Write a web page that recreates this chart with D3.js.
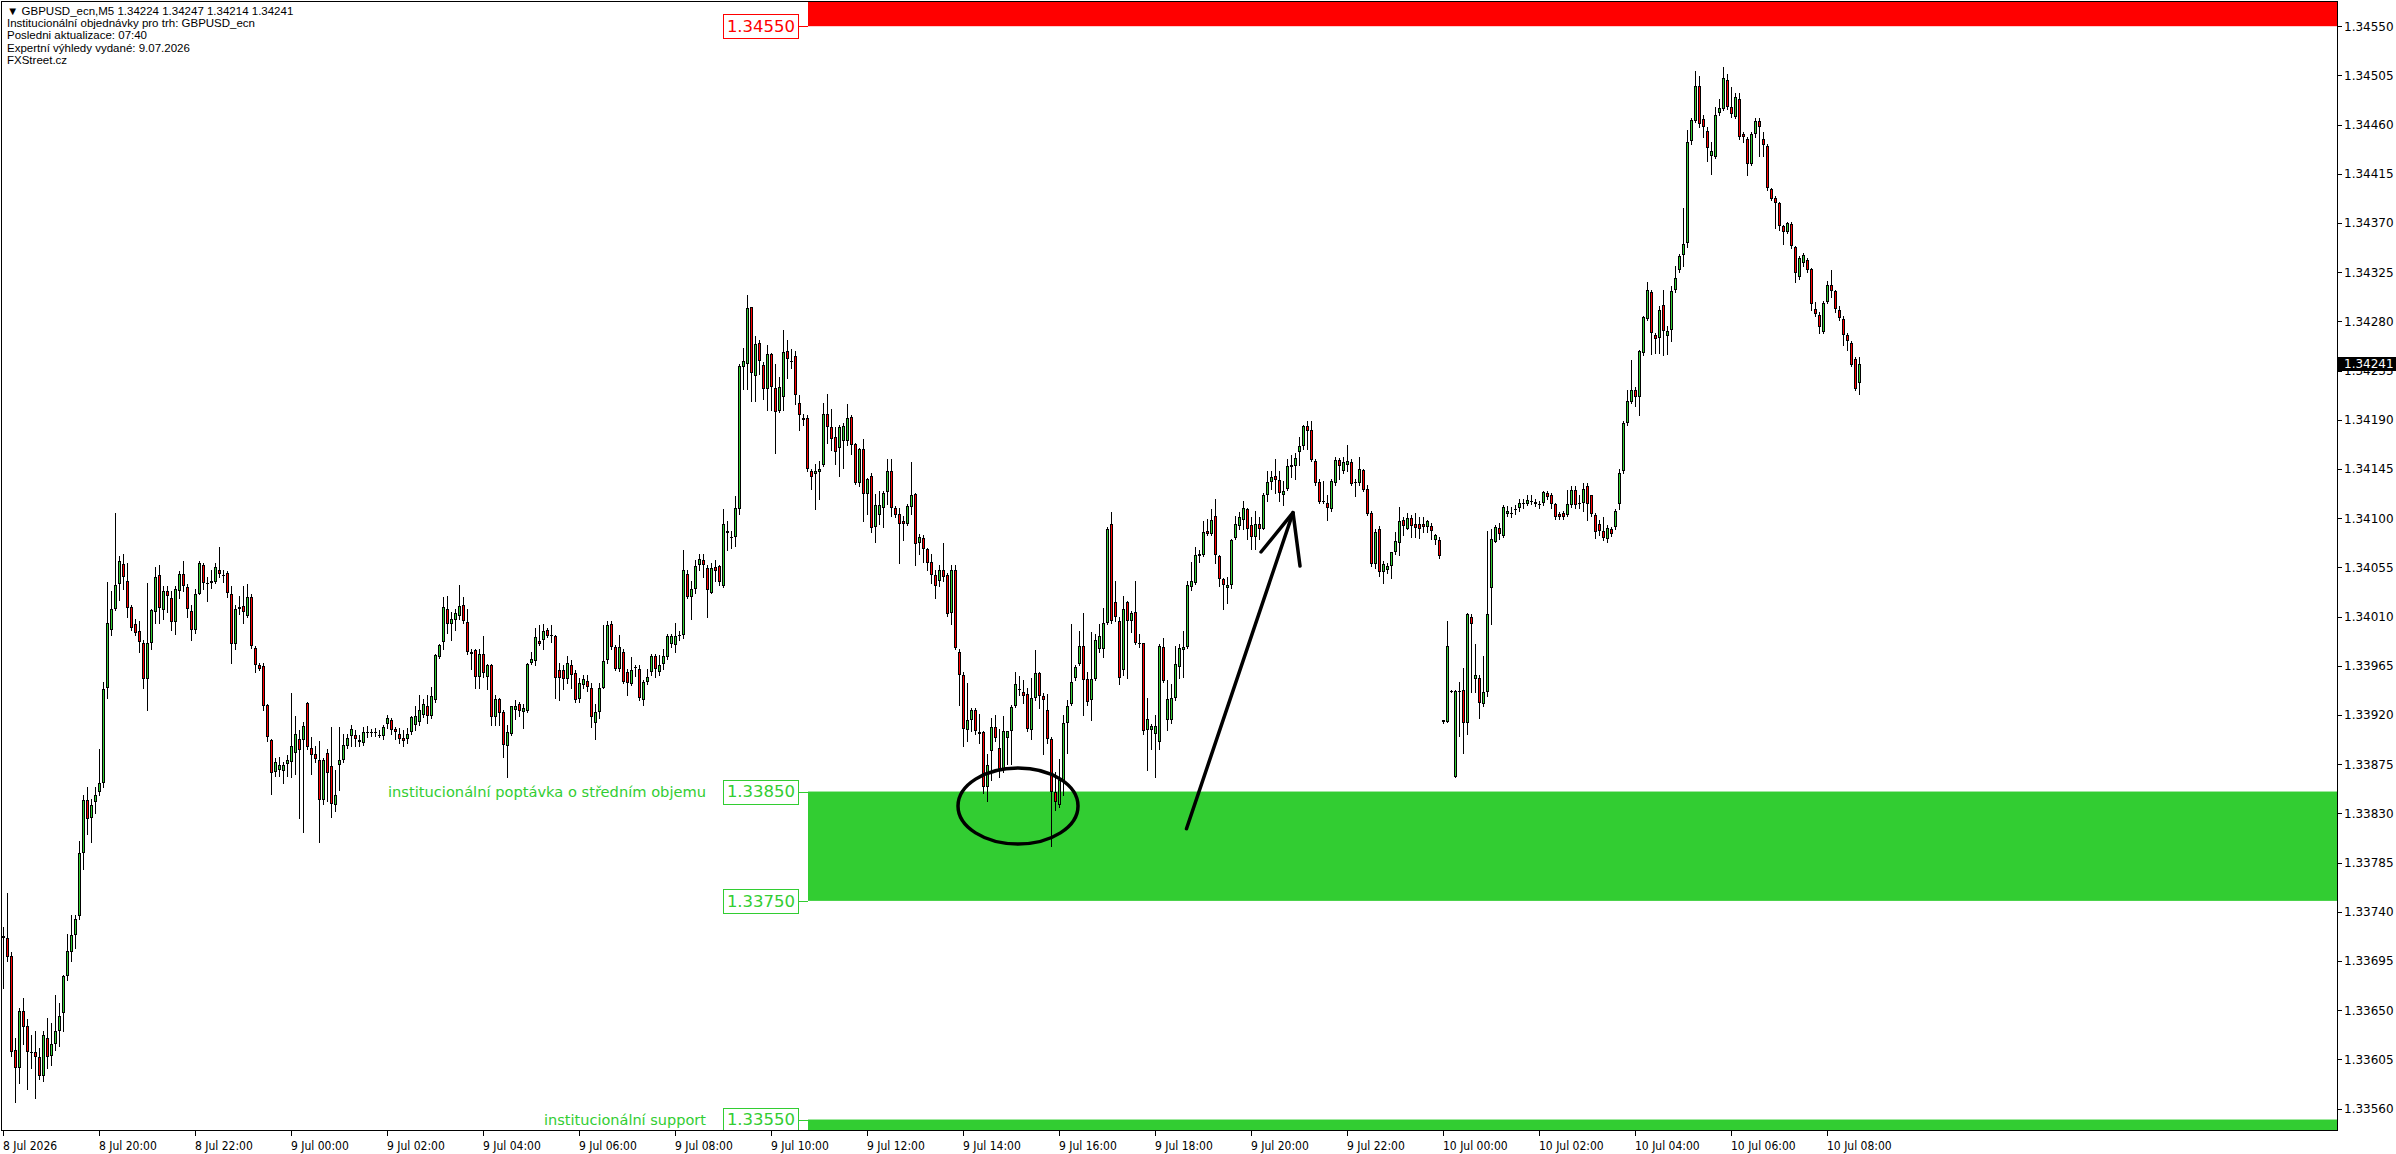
<!DOCTYPE html>
<html><head><meta charset="utf-8">
<script src="https://cdn.jsdelivr.net/npm/d3@7"></script>
<style>html,body{margin:0;padding:0;background:#fff;overflow:hidden}</style>
</head><body>
<svg id="c" width="2396" height="1154" xmlns="http://www.w3.org/2000/svg"></svg>
<script>
// ---- DATA (GBPUSD_ecn, M5) ----
const startTime = "2026-07-08T18:00";
const openPrices = [
1.33718,1.33716,1.33700,1.33614,1.33597,1.33649,1.33636,1.33612,1.33612,1.33607,
1.33590,1.33625,1.33608,1.33619,1.33631,1.33647,1.33681,1.33703,1.33719,1.33736,
1.33794,1.33842,1.33826,1.33840,1.33850,1.33858,1.33945,1.33998,1.34017,1.34040,
1.34058,1.34043,1.34019,1.34003,1.33997,1.33986,1.33953,1.33986,1.34014,1.34048,
1.34016,1.34033,1.34027,1.34005,1.34033,1.34049,1.34037,1.34015,1.33998,1.34031,
1.34057,1.34041,1.34042,1.34042,1.34053,1.34048,1.34050,1.34031,1.33985,1.34019,
1.34020,1.34011,1.34028,1.33981,1.33966,1.33965,1.33929,1.33897,1.33868,1.33870,
1.33869,1.33875,1.33877,1.33885,1.33898,1.33897,1.33931,1.33890,1.33884,1.33879,
1.33842,1.33885,1.33873,1.33838,1.33874,1.33879,1.33892,1.33901,1.33902,1.33897,
1.33894,1.33904,1.33904,1.33904,1.33902,1.33901,1.33912,1.33915,1.33907,1.33903,
1.33899,1.33898,1.33904,1.33911,1.33914,1.33920,1.33928,1.33919,1.33934,1.33973,
1.33987,1.34017,1.34003,1.34007,1.34011,1.34021,1.34005,1.33978,1.33979,1.33955,
1.33976,1.33955,1.33966,1.33918,1.33935,1.33923,1.33892,1.33903,1.33925,1.33930,
1.33923,1.33924,1.33968,1.33969,1.33988,1.33989,1.33998,1.33993,1.33992,1.33961,
1.33961,1.33953,1.33966,1.33958,1.33935,1.33947,1.33951,1.33945,1.33913,1.33923,
1.33945,1.33970,1.34003,1.33982,1.33962,1.33978,1.33959,1.33948,1.33964,1.33962,
1.33934,1.33950,1.33959,1.33974,1.33959,1.33967,1.33973,1.33985,1.33984,1.33993,
1.33993,1.34049,1.34028,1.34035,1.34057,1.34062,1.34054,1.34032,1.34055,1.34056,
1.34038,1.34088,1.34083,1.34083,1.34108,1.34238,1.34241,1.34293,1.34230,1.34260,
1.34240,1.34218,1.34250,1.34219,1.34198,1.34211,1.34253,1.34244,1.34248,1.34205,
1.34192,1.34192,1.34143,1.34140,1.34142,1.34149,1.34195,1.34183,1.34174,1.34164,
1.34171,1.34171,1.34193,1.34168,1.34132,1.34163,1.34122,1.34139,1.34092,1.34103,
1.34109,1.34124,1.34143,1.34109,1.34104,1.34097,1.34095,1.34110,1.34122,1.34077,
1.34082,1.34072,1.34060,1.34048,1.34043,1.34053,1.34048,1.34013,1.34053,1.33978,
1.33957,1.33906,1.33915,1.33925,1.33904,1.33904,1.33854,1.33887,1.33909,1.33890,
1.33871,1.33899,1.33905,1.33928,1.33944,1.33941,1.33939,1.33906,1.33936,1.33958,
1.33937,1.33925,1.33898,1.33850,1.33838,1.33860,1.33913,1.33930,1.33954,1.33967,
1.33983,1.33953,1.33934,1.33953,1.33980,1.33980,1.34004,1.34095,1.34023,1.34006,
1.33961,1.34023,1.34006,1.34014,1.33986,1.33986,1.33906,1.33906,1.33903,1.33895,
1.33982,1.33915,1.33915,1.33936,1.33964,1.33979,1.33982,1.34037,1.34041,1.34065,
1.34066,1.34088,1.34086,1.34102,1.34065,1.34044,1.34036,1.34039,1.34082,1.34093,
1.34098,1.34108,1.34094,1.34083,1.34095,1.34090,1.34121,1.34133,1.34139,1.34135,
1.34121,1.34127,1.34147,1.34148,1.34161,1.34166,1.34184,1.34181,1.34152,1.34133,
1.34116,1.34114,1.34108,1.34132,1.34153,1.34143,1.34149,1.34151,1.34133,1.34132,
1.34144,1.34127,1.34105,1.34058,1.34090,1.34051,1.34053,1.34056,1.34069,1.34077,
1.34098,1.34090,1.34100,1.34095,1.34095,1.34095,1.34092,1.34093,1.34080,1.34080,
1.33914,1.33914,1.33942,1.33863,1.33942,1.33943,1.33913,1.34010,1.33953,1.33954,
1.33930,1.33941,1.34036,1.34078,1.34091,1.34084,1.34104,1.34105,1.34108,1.34109,
1.34114,1.34113,1.34116,1.34115,1.34113,1.34114,1.34123,1.34121,1.34113,1.34104,
1.34105,1.34103,1.34112,1.34126,1.34114,1.34114,1.34129,1.34121,1.34103,1.34095,
1.34088,1.34081,1.34090,1.34092,1.34113,1.34143,1.34187,1.34206,1.34217,1.34211,
1.34251,1.34282,1.34307,1.34268,1.34265,1.34295,1.34267,1.34272,1.34309,1.34327,
1.34341,1.34352,1.34445,1.34463,1.34495,1.34465,1.34454,1.34431,1.34430,1.34471,
1.34474,1.34501,1.34476,1.34467,1.34483,1.34451,1.34447,1.34424,1.34451,1.34463,
1.34447,1.34440,1.34401,1.34393,1.34388,1.34367,1.34362,1.34369,1.34348,1.34321,
1.34333,1.34336,1.34328,1.34291,1.34286,1.34270,1.34298,1.34313,1.34308,1.34290,
1.34282,1.34268,1.34260,1.34246,1.34224];
const highPrices = [
1.33726,1.33757,1.33703,1.33625,1.33652,1.33661,1.33642,1.33627,1.33631,1.33615,
1.33631,1.33643,1.33638,1.33664,1.33657,1.33682,1.33720,1.33737,1.33737,1.33805,
1.33847,1.33854,1.33843,1.33854,1.33889,1.33950,1.34042,1.34033,1.34105,1.34065,
1.34067,1.34059,1.34021,1.34008,1.34006,1.33989,1.34041,1.34017,1.34055,1.34057,
1.34038,1.34038,1.34033,1.34038,1.34052,1.34061,1.34040,1.34021,1.34035,1.34061,
1.34059,1.34046,1.34053,1.34059,1.34074,1.34053,1.34052,1.34038,1.34021,1.34029,
1.34038,1.34040,1.34031,1.33983,1.33968,1.33968,1.33930,1.33898,1.33881,1.33882,
1.33877,1.33883,1.33940,1.33919,1.33906,1.33914,1.33932,1.33900,1.33892,1.33896,
1.33881,1.33889,1.33909,1.33870,1.33909,1.33903,1.33903,1.33911,1.33906,1.33902,
1.33909,1.33910,1.33907,1.33908,1.33906,1.33911,1.33920,1.33917,1.33909,1.33908,
1.33906,1.33908,1.33919,1.33928,1.33938,1.33935,1.33938,1.33946,1.33976,1.33985,
1.34028,1.34029,1.34014,1.34017,1.34039,1.34028,1.34017,1.33980,1.33980,1.33980,
1.33992,1.33967,1.33967,1.33938,1.33936,1.33925,1.33911,1.33928,1.33934,1.33932,
1.33930,1.33968,1.33978,1.34000,1.34002,1.34003,1.34000,1.34002,1.33993,1.33968,
1.33966,1.33974,1.33970,1.33961,1.33954,1.33957,1.33957,1.33949,1.33930,1.33949,
1.34002,1.34006,1.34006,1.33984,1.33993,1.33980,1.33962,1.33973,1.33966,1.33966,
1.33952,1.33962,1.33976,1.33976,1.33975,1.33980,1.33994,1.33994,1.34004,1.33997,
1.34071,1.34053,1.34043,1.34062,1.34067,1.34067,1.34057,1.34059,1.34062,1.34057,
1.34108,1.34097,1.34088,1.34120,1.34241,1.34256,1.34304,1.34293,1.34267,1.34263,
1.34243,1.34258,1.34251,1.34241,1.34229,1.34272,1.34263,1.34255,1.34253,1.34213,
1.34195,1.34194,1.34145,1.34150,1.34152,1.34205,1.34214,1.34200,1.34183,1.34185,
1.34187,1.34204,1.34194,1.34169,1.34164,1.34172,1.34137,1.34141,1.34122,1.34125,
1.34125,1.34154,1.34154,1.34111,1.34109,1.34102,1.34113,1.34151,1.34123,1.34086,
1.34085,1.34073,1.34067,1.34053,1.34057,1.34077,1.34050,1.34057,1.34057,1.33980,
1.33959,1.33949,1.33926,1.33926,1.33921,1.33905,1.33884,1.33917,1.33920,1.33907,
1.33919,1.33905,1.33929,1.33959,1.33956,1.33952,1.33945,1.33954,1.33979,1.33959,
1.33940,1.33939,1.33900,1.33868,1.33880,1.33920,1.33934,1.34003,1.33966,1.33997,
1.34013,1.33959,1.33996,1.33994,1.34003,1.34018,1.34092,1.34106,1.34043,1.34010,
1.34029,1.34024,1.34015,1.34043,1.33994,1.33986,1.33936,1.33912,1.33920,1.33985,
1.33990,1.33952,1.33948,1.33983,1.33985,1.33997,1.34043,1.34060,1.34074,1.34071,
1.34097,1.34099,1.34108,1.34118,1.34066,1.34045,1.34046,1.34081,1.34102,1.34106,
1.34116,1.34109,1.34101,1.34107,1.34101,1.34123,1.34143,1.34143,1.34154,1.34143,
1.34134,1.34154,1.34158,1.34160,1.34174,1.34185,1.34189,1.34189,1.34154,1.34136,
1.34134,1.34121,1.34136,1.34156,1.34155,1.34156,1.34167,1.34154,1.34136,1.34156,
1.34145,1.34130,1.34107,1.34090,1.34093,1.34061,1.34059,1.34069,1.34087,1.34110,
1.34101,1.34105,1.34103,1.34105,1.34101,1.34101,1.34098,1.34096,1.34086,1.34083,
1.33915,1.34006,1.33943,1.33943,1.33950,1.33963,1.34013,1.34012,1.33985,1.33957,
1.33974,1.34088,1.34090,1.34094,1.34096,1.34112,1.34111,1.34110,1.34112,1.34118,
1.34118,1.34121,1.34121,1.34118,1.34116,1.34125,1.34125,1.34123,1.34114,1.34106,
1.34107,1.34126,1.34129,1.34129,1.34121,1.34132,1.34132,1.34121,1.34105,1.34098,
1.34101,1.34094,1.34092,1.34108,1.34145,1.34189,1.34217,1.34245,1.34220,1.34254,
1.34285,1.34316,1.34309,1.34269,1.34294,1.34309,1.34276,1.34312,1.34331,1.34342,
1.34384,1.34455,1.34466,1.34509,1.34504,1.34469,1.34458,1.34444,1.34476,1.34483,
1.34513,1.34506,1.34494,1.34489,1.34489,1.34453,1.34449,1.34453,1.34466,1.34466,
1.34453,1.34442,1.34402,1.34395,1.34389,1.34368,1.34371,1.34371,1.34349,1.34340,
1.34343,1.34338,1.34329,1.34298,1.34289,1.34299,1.34317,1.34327,1.34309,1.34294,
1.34285,1.34269,1.34262,1.34247,1.34247];
const lowPrices = [
1.33670,1.33695,1.33608,1.33566,1.33583,1.33619,1.33578,1.33597,1.33570,1.33587,
1.33585,1.33597,1.33600,1.33614,1.33617,1.33631,1.33678,1.33695,1.33707,1.33733,
1.33779,1.33811,1.33804,1.33830,1.33847,1.33854,1.33936,1.33993,1.34016,1.34025,
1.34035,1.34010,1.33998,1.33993,1.33978,1.33945,1.33925,1.33980,1.34004,1.34004,
1.34008,1.34014,1.33998,1.33994,1.34027,1.34033,1.34010,1.33989,1.33995,1.34031,
1.34035,1.34024,1.34036,1.34041,1.34046,1.34042,1.34028,1.33968,1.33980,1.34012,
1.34004,1.34010,1.33981,1.33959,1.33961,1.33925,1.33896,1.33848,1.33864,1.33864,
1.33858,1.33864,1.33863,1.33866,1.33826,1.33813,1.33889,1.33866,1.33877,1.33804,
1.33839,1.33841,1.33827,1.33832,1.33851,1.33877,1.33890,1.33892,1.33892,1.33892,
1.33893,1.33900,1.33901,1.33901,1.33900,1.33898,1.33908,1.33903,1.33898,1.33894,
1.33892,1.33894,1.33903,1.33906,1.33911,1.33918,1.33913,1.33917,1.33932,1.33972,
1.33980,1.33995,1.33989,1.33998,1.34008,1.34004,1.33976,1.33962,1.33945,1.33945,
1.33955,1.33944,1.33911,1.33911,1.33911,1.33882,1.33863,1.33902,1.33916,1.33919,
1.33908,1.33923,1.33967,1.33966,1.33984,1.33980,1.33991,1.33987,1.33936,1.33934,
1.33944,1.33949,1.33945,1.33932,1.33932,1.33945,1.33942,1.33909,1.33898,1.33917,
1.33945,1.33968,1.33980,1.33961,1.33960,1.33949,1.33938,1.33947,1.33956,1.33934,
1.33929,1.33948,1.33957,1.33955,1.33957,1.33962,1.33971,1.33982,1.33978,1.33989,
1.33990,1.34027,1.34008,1.34032,1.34053,1.34046,1.34010,1.34032,1.34043,1.34039,
1.34037,1.34071,1.34073,1.34075,1.34104,1.34218,1.34218,1.34207,1.34207,1.34232,
1.34209,1.34199,1.34199,1.34160,1.34197,1.34199,1.34228,1.34237,1.34204,1.34181,
1.34185,1.34143,1.34127,1.34108,1.34118,1.34148,1.34169,1.34162,1.34150,1.34139,
1.34146,1.34167,1.34159,1.34131,1.34129,1.34097,1.34104,1.34087,1.34078,1.34095,
1.34092,1.34113,1.34102,1.34101,1.34059,1.34080,1.34094,1.34104,1.34057,1.34067,
1.34060,1.34053,1.34041,1.34027,1.34038,1.34043,1.34011,1.34003,1.33980,1.33929,
1.33892,1.33896,1.33905,1.33903,1.33894,1.33849,1.33841,1.33861,1.33896,1.33863,
1.33868,1.33875,1.33875,1.33927,1.33938,1.33931,1.33905,1.33898,1.33934,1.33926,
1.33884,1.33894,1.33800,1.33833,1.33836,1.33847,1.33885,1.33929,1.33952,1.33966,
1.33920,1.33929,1.33915,1.33952,1.33978,1.33973,1.34003,1.34004,1.34006,1.33948,
1.33957,1.33954,1.33996,1.33985,1.33982,1.33903,1.33870,1.33889,1.33863,1.33889,
1.33950,1.33906,1.33913,1.33934,1.33954,1.33955,1.33981,1.34034,1.34040,1.34060,
1.34065,1.34085,1.34085,1.34059,1.34038,1.34017,1.34022,1.34036,1.34081,1.34090,
1.34090,1.34081,1.34072,1.34072,1.34081,1.34090,1.34116,1.34127,1.34123,1.34116,
1.34112,1.34126,1.34138,1.34136,1.34149,1.34163,1.34163,1.34152,1.34130,1.34114,
1.34114,1.34098,1.34107,1.34130,1.34136,1.34141,1.34143,1.34130,1.34120,1.34130,
1.34125,1.34103,1.34056,1.34054,1.34047,1.34041,1.34050,1.34045,1.34067,1.34066,
1.34085,1.34090,1.34083,1.34083,1.34082,1.34087,1.34087,1.34081,1.34076,1.34064,
1.33913,1.33914,1.33941,1.33863,1.33901,1.33885,1.33903,1.33941,1.33941,1.33917,
1.33928,1.33937,1.34003,1.34078,1.34081,1.34083,1.34102,1.34101,1.34104,1.34107,
1.34109,1.34112,1.34113,1.34111,1.34109,1.34112,1.34118,1.34109,1.34099,1.34099,
1.34099,1.34102,1.34110,1.34109,1.34109,1.34107,1.34098,1.34102,1.34082,1.34085,
1.34080,1.34078,1.34084,1.34090,1.34108,1.34141,1.34185,1.34205,1.34203,1.34194,
1.34249,1.34281,1.34250,1.34251,1.34251,1.34249,1.34250,1.34262,1.34307,1.34325,
1.34331,1.34348,1.34442,1.34462,1.34458,1.34449,1.34427,1.34415,1.34429,1.34469,
1.34473,1.34474,1.34467,1.34466,1.34447,1.34444,1.34414,1.34423,1.34449,1.34431,
1.34431,1.34400,1.34391,1.34365,1.34364,1.34351,1.34361,1.34347,1.34316,1.34319,
1.34331,1.34325,1.34290,1.34285,1.34269,1.34269,1.34297,1.34302,1.34289,1.34281,
1.34258,1.34254,1.34239,1.34217,1.34214];
const closePrices = [
1.33716,1.33699,1.33612,1.33597,1.33649,1.33635,1.33612,1.33612,1.33607,1.33590,
1.33627,1.33607,1.33619,1.33631,1.33645,1.33681,1.33704,1.33719,1.33733,1.33794,
1.33842,1.33825,1.33838,1.33847,1.33858,1.33944,1.34004,1.34017,1.34039,1.34061,
1.34046,1.34018,1.34000,1.33995,1.33987,1.33953,1.33986,1.34016,1.34046,1.34018,
1.34033,1.34029,1.34005,1.34035,1.34049,1.34038,1.34017,1.33998,1.34031,1.34059,
1.34041,1.34041,1.34043,1.34055,1.34049,1.34048,1.34032,1.33985,1.34017,1.34017,
1.34014,1.34028,1.33983,1.33966,1.33962,1.33928,1.33900,1.33867,1.33877,1.33874,
1.33874,1.33879,1.33892,1.33903,1.33888,1.33910,1.33891,1.33883,1.33880,1.33842,
1.33879,1.33867,1.33839,1.33847,1.33879,1.33893,1.33899,1.33907,1.33898,1.33896,
1.33904,1.33904,1.33904,1.33904,1.33902,1.33909,1.33917,1.33906,1.33904,1.33898,
1.33896,1.33903,1.33918,1.33919,1.33925,1.33930,1.33919,1.33937,1.33975,1.33984,
1.34019,1.34003,1.34008,1.34013,1.34020,1.34006,1.33978,1.33976,1.33955,1.33976,
1.33958,1.33966,1.33918,1.33935,1.33922,1.33893,1.33904,1.33928,1.33928,1.33924,
1.33926,1.33967,1.33971,1.33991,1.33985,1.33997,1.33992,1.33993,1.33954,1.33954,
1.33953,1.33968,1.33957,1.33934,1.33949,1.33953,1.33946,1.33918,1.33923,1.33945,
1.33969,1.34002,1.33982,1.33962,1.33982,1.33950,1.33949,1.33961,1.33964,1.33936,
1.33950,1.33955,1.33974,1.33962,1.33966,1.33974,1.33992,1.33992,1.33992,1.33993,
1.34053,1.34028,1.34035,1.34056,1.34063,1.34057,1.34034,1.34054,1.34052,1.34042,
1.34095,1.34087,1.34083,1.34109,1.34239,1.34244,1.34292,1.34233,1.34259,1.34244,
1.34218,1.34250,1.34220,1.34197,1.34220,1.34252,1.34246,1.34244,1.34213,1.34194,
1.34190,1.34145,1.34138,1.34143,1.34145,1.34195,1.34183,1.34172,1.34161,1.34183,
1.34184,1.34192,1.34167,1.34132,1.34163,1.34122,1.34136,1.34091,1.34112,1.34112,
1.34123,1.34143,1.34109,1.34103,1.34095,1.34095,1.34111,1.34121,1.34076,1.34083,
1.34072,1.34059,1.34048,1.34038,1.34053,1.34046,1.34012,1.34053,1.33981,1.33957,
1.33907,1.33915,1.33925,1.33905,1.33903,1.33854,1.33874,1.33909,1.33899,1.33871,
1.33905,1.33905,1.33927,1.33948,1.33944,1.33937,1.33907,1.33936,1.33958,1.33937,
1.33934,1.33898,1.33850,1.33840,1.33861,1.33913,1.33928,1.33950,1.33964,1.33983,
1.33952,1.33932,1.33953,1.33989,1.33992,1.34004,1.34090,1.34006,1.34010,1.33954,
1.34017,1.34006,1.34013,1.33986,1.33986,1.33905,1.33916,1.33910,1.33910,1.33983,
1.33951,1.33935,1.33936,1.33967,1.33981,1.33982,1.34039,1.34043,1.34066,1.34067,
1.34087,1.34086,1.34098,1.34066,1.34044,1.34039,1.34039,1.34080,1.34095,1.34101,
1.34109,1.34090,1.34083,1.34095,1.34090,1.34121,1.34133,1.34138,1.34135,1.34123,
1.34125,1.34148,1.34149,1.34155,1.34166,1.34184,1.34180,1.34153,1.34132,1.34115,
1.34116,1.34109,1.34134,1.34153,1.34148,1.34151,1.34152,1.34131,1.34133,1.34145,
1.34126,1.34104,1.34058,1.34087,1.34051,1.34058,1.34056,1.34069,1.34079,1.34097,
1.34093,1.34100,1.34093,1.34091,1.34090,1.34092,1.34097,1.34088,1.34085,1.34065,
1.33915,1.33983,1.33942,1.33942,1.33942,1.33913,1.34012,1.34003,1.33957,1.33931,
1.33941,1.34012,1.34081,1.34092,1.34086,1.34110,1.34107,1.34105,1.34108,1.34114,
1.34114,1.34117,1.34116,1.34113,1.34113,1.34124,1.34119,1.34113,1.34101,1.34101,
1.34101,1.34113,1.34126,1.34112,1.34114,1.34127,1.34113,1.34104,1.34087,1.34088,
1.34082,1.34091,1.34086,1.34107,1.34141,1.34187,1.34207,1.34217,1.34211,1.34253,
1.34284,1.34309,1.34269,1.34264,1.34290,1.34271,1.34271,1.34308,1.34320,1.34340,
1.34351,1.34444,1.34464,1.34495,1.34461,1.34458,1.34439,1.34436,1.34469,1.34475,
1.34503,1.34476,1.34470,1.34485,1.34449,1.34449,1.34424,1.34451,1.34463,1.34458,
1.34441,1.34402,1.34392,1.34388,1.34367,1.34362,1.34370,1.34349,1.34324,1.34338,
1.34341,1.34327,1.34296,1.34287,1.34275,1.34297,1.34313,1.34308,1.34291,1.34283,
1.34268,1.34262,1.34240,1.34218,1.34241];

const priceTicks = [1.34550,1.34505,1.34460,1.34415,1.34370,1.34325,1.34280,1.34235,1.34190,1.34145,1.34100,1.34055,
  1.34010,1.33965,1.33920,1.33875,1.33830,1.33785,1.33740,1.33695,1.33650,1.33605,1.33560];
const timeLabels = ["8 Jul 2026","8 Jul 20:00","8 Jul 22:00","9 Jul 00:00","9 Jul 02:00","9 Jul 04:00","9 Jul 06:00",
  "9 Jul 08:00","9 Jul 10:00","9 Jul 12:00","9 Jul 14:00","9 Jul 16:00","9 Jul 18:00","9 Jul 20:00","9 Jul 22:00",
  "10 Jul 00:00","10 Jul 02:00","10 Jul 04:00","10 Jul 06:00","10 Jul 08:00"];
const timeLabelTimes = ["2026-07-08T18:00","2026-07-08T20:00","2026-07-08T22:00","2026-07-09T00:00","2026-07-09T02:00",
  "2026-07-09T04:00","2026-07-09T06:00","2026-07-09T08:00","2026-07-09T10:00","2026-07-09T12:00","2026-07-09T14:00",
  "2026-07-09T16:00","2026-07-09T18:00","2026-07-09T20:00","2026-07-09T22:00","2026-07-10T00:00","2026-07-10T02:00",
  "2026-07-10T04:00","2026-07-10T06:00","2026-07-10T08:00"];
const headerLines = ["\u25BC GBPUSD_ecn,M5  1.34224 1.34247 1.34214 1.34241",
  "Institucionální objednávky pro trh: GBPUSD_ecn",
  "Posledni aktualizace: 07:40",
  "Expertní výhledy vydané: 9.07.2026",
  "FXStreet.cz"];
const zoneLevels = [
  {from: 1.34550, to: null,    color: "#ff0000"},
  {from: 1.33850, to: 1.33750, color: "#32cd32"},
  {from: 1.33550, to: "bottom", color: "#32cd32"}];
const levelLabels = [
  {price: 1.34550, text: "",  color: "#ff0000"},
  {price: 1.33850, text: "institucionální poptávka o středním objemu", color: "#32cd32"},
  {price: 1.33750, text: "", color: "#32cd32"},
  {price: 1.33550, text: "institucionální support", color: "#32cd32"}];
const lastPrice = 1.34241;

// ---- LAYOUT ----
const W = 2396, H = 1154;
const plot = {left: 1.5, top: 1.5, right: 2337.5, bottom: 1130.5};
const parseT = d3.utcParse("%Y-%m-%dT%H:%M");
const t0 = parseT(startTime);
const x = d3.scaleUtc().domain([t0, d3.utcHour.offset(t0, 2)]).range([3.5, 99.5]);
const y = d3.scaleLinear().domain([1.33560, 1.34550]).range([1108.6, 26.2]);

const svg = d3.select("#c");
svg.append("rect").attr("width", W).attr("height", H).attr("fill", "#fff");

svg.append("defs").append("clipPath").attr("id", "pc")
  .append("rect").attr("x", plot.left).attr("y", plot.top)
  .attr("width", plot.right - plot.left).attr("height", plot.bottom - plot.top);

const gPlot = svg.append("g").attr("clip-path", "url(#pc)");

// zones
const zoneX0 = 808, zoneX1 = plot.right;
zoneLevels.forEach(z => {
  let yA = y(z.from);
  let yB = z.to === null ? plot.top : (z.to === "bottom" ? plot.bottom : y(z.to));
  gPlot.append("rect").attr("x", zoneX0).attr("width", zoneX1 - zoneX0)
    .attr("y", Math.min(yA, yB)).attr("height", Math.abs(yB - yA)).attr("fill", z.color);
});

// candles
const n = Math.min(openPrices.length, highPrices.length, lowPrices.length, closePrices.length);
const candles = d3.range(n).map(i => ({
  t: d3.utcMinute.offset(t0, 5 * i),
  o: openPrices[i], c: closePrices[i],
  h: Math.max(highPrices[i], openPrices[i], closePrices[i]),
  l: Math.min(lowPrices[i], openPrices[i], closePrices[i])
}));
const gC = gPlot.append("g").attr("shape-rendering", "crispEdges");
candles.forEach(d => {
  const cx = x(d.t);
  const yh = Math.round(y(d.h)), yl = Math.round(y(d.l));
  gC.append("line").attr("x1", cx).attr("x2", cx).attr("y1", yh).attr("y2", yl + 1)
    .attr("stroke", "#000").attr("stroke-width", 1);
  const yt = Math.round(y(Math.max(d.o, d.c))), yb = Math.round(y(Math.min(d.o, d.c)));
  if (yb - yt < 2) {
    gC.append("line").attr("x1", cx - 1.5).attr("x2", cx + 1.5).attr("y1", yt + 0.5).attr("y2", yt + 0.5)
      .attr("stroke", "#000").attr("stroke-width", Math.max(1, yb - yt + 1));
  } else {
    gC.append("rect").attr("x", cx - 1).attr("width", 2).attr("y", yt + 0.5).attr("height", yb - yt - 1)
      .attr("fill", d.c >= d.o ? "#32cd32" : "#ff0000").attr("stroke", "#000").attr("stroke-width", 1);
  }
});

// annotations: ellipse + arrow
gPlot.append("ellipse").attr("cx", 1018).attr("cy", 806).attr("rx", 60).attr("ry", 38)
  .attr("fill", "none").attr("stroke", "#000").attr("stroke-width", 3.5);
const arrowPts = [[1186.5, 828.7], [1293, 512.6]];
gPlot.append("line").attr("x1", arrowPts[0][0]).attr("y1", arrowPts[0][1]).attr("x2", arrowPts[1][0]).attr("y2", arrowPts[1][1])
  .attr("stroke", "#000").attr("stroke-width", 3.5).attr("stroke-linecap", "round");
gPlot.append("path").attr("d", `M1261,552 L${arrowPts[1][0]},${arrowPts[1][1]} L1300,566`)
  .attr("fill", "none").attr("stroke", "#000").attr("stroke-width", 3.5).attr("stroke-linecap", "round").attr("stroke-linejoin", "round");

// level labels (boxes + texts)
levelLabels.forEach(L => {
  const yy = y(L.price);
  const bx = 723, bw = 75, bh = 24;
  gPlot.append("line").attr("x1", bx + bw).attr("x2", zoneX0).attr("y1", Math.round(yy) + 0.5).attr("y2", Math.round(yy) + 0.5)
    .attr("stroke", L.color).attr("stroke-width", 1);
  gPlot.append("rect").attr("x", bx + 0.5).attr("y", Math.round(yy - bh / 2) + 0.5).attr("width", bw).attr("height", bh)
    .attr("fill", "#fff").attr("stroke", L.color).attr("stroke-width", 1);
  gPlot.append("text").attr("x", bx + bw / 2 + 0.5).attr("y", yy).attr("dy", "0.36em")
    .attr("text-anchor", "middle").attr("font-family", "DejaVu Sans").attr("font-size", 16.5)
    .attr("fill", L.color).text(L.price.toFixed(5));
  if (L.text) {
    const tl = L.text.length > 30 ? 318 : 162;
    gPlot.append("text").attr("x", 706).attr("y", yy).attr("dy", "0.36em").attr("text-anchor", "end")
      .attr("font-family", "DejaVu Sans").attr("font-size", 14).attr("fill", L.color)
      .attr("textLength", tl).attr("lengthAdjust", "spacingAndGlyphs").text(L.text);
  }
});

// frame
svg.append("rect").attr("x", plot.left).attr("y", plot.top).attr("width", plot.right - plot.left)
  .attr("height", plot.bottom - plot.top).attr("fill", "none").attr("stroke", "#000").attr("stroke-width", 1)
  .attr("shape-rendering", "crispEdges");

// right price axis
const gY = svg.append("g").attr("shape-rendering", "crispEdges");
priceTicks.forEach(p => {
  const yy = Math.round(y(p)) + 0.5;
  gY.append("line").attr("x1", plot.right).attr("x2", plot.right + 4).attr("y1", yy).attr("y2", yy).attr("stroke", "#000");
  gY.append("text").attr("x", 2344).attr("y", y(p)).attr("dy", "0.36em").attr("font-family", "DejaVu Sans")
    .attr("font-size", 12).attr("fill", "#000").text(p.toFixed(5));
});
// last price marker
const yl = y(lastPrice);
svg.append("rect").attr("x", plot.right).attr("y", Math.round(yl) - 7).attr("width", W - plot.right).attr("height", 14).attr("fill", "#000");
svg.append("text").attr("x", 2344).attr("y", yl).attr("dy", "0.36em").attr("font-family", "DejaVu Sans")
  .attr("font-size", 12).attr("fill", "#fff").text(lastPrice.toFixed(5));

// bottom time axis
const gX = svg.append("g");
timeLabels.forEach((lab, i) => {
  const tx = x(parseT(timeLabelTimes[i]));
  gX.append("line").attr("x1", tx).attr("x2", tx).attr("y1", plot.bottom).attr("y2", plot.bottom + 5)
    .attr("stroke", "#000").attr("shape-rendering", "crispEdges");
  gX.append("text").attr("x", tx - 0.5).attr("y", 1150).attr("font-family", "DejaVu Sans Condensed, DejaVu Sans")
    .attr("font-stretch", "condensed").attr("font-size", 12).attr("fill", "#000").text(lab);
});

// header
headerLines.forEach((s, i) => {
  svg.append("text").attr("x", 7).attr("y", 15 + i * 12.2).attr("font-family", "Liberation Sans, Arial")
    .attr("font-size", 11.5).attr("fill", "#000").text(s);
});
</script>
</body></html>
